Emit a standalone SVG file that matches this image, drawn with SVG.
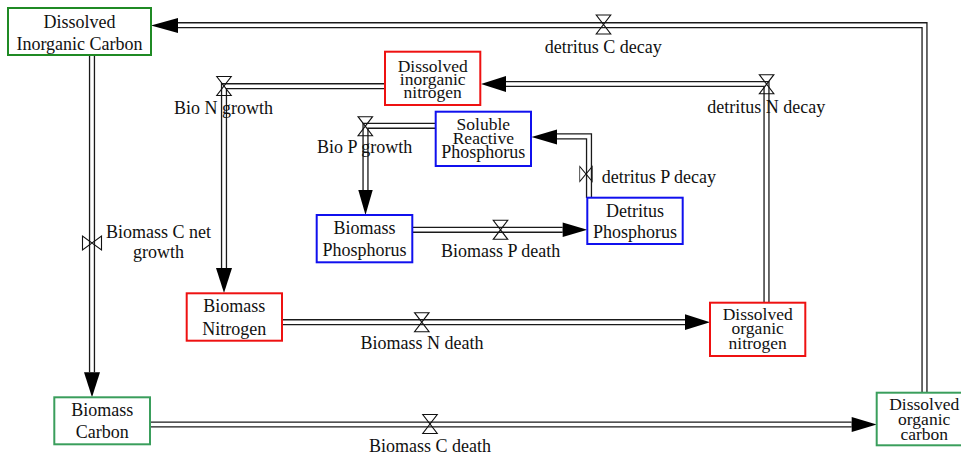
<svg xmlns="http://www.w3.org/2000/svg" xmlns:xlink="http://www.w3.org/1999/xlink" width="961" height="458" viewBox="0 0 961 458">
<style>
text{font-family:"Liberation Serif","Times New Roman",serif;font-size:18px;fill:#111;text-anchor:middle}
.t3{font-size:17.5px}
.box{fill:#fff;stroke-width:2}
.red{stroke:#ee1111}
.blue{stroke:#1010ee}
.dg{stroke:#1f8a24}
.lg{stroke:#3a9e5c}
.po{fill:none;stroke:#1a1a1a;stroke-width:6.2;stroke-linejoin:miter}
.pi{fill:none;stroke:#fff;stroke-width:3.6;stroke-linejoin:miter}
.arr{fill:#000}
.valve{fill:none;stroke:#111;stroke-width:1.1}
</style>
<defs>
<path id="vh" d="M-7.25,-9.5 H7.25 L-7.25,9.5 H7.25 Z"/>
<path id="vv" d="M-9.5,-7 V7 L9.5,-7 V7 Z"/>
</defs>
<rect width="961" height="458" fill="#fff"/>
<g id="connectors">
<g class="pipes-outer">
<path class="po" d="M924.5,393 V25.2 H178"/>
<path class="po" d="M766.5,303 V84 H506"/>
<path class="po" d="M385,86.2 H224 V268"/>
<path class="po" d="M435.7,125.8 H365.5 V190"/>
<path class="po" d="M589,198 V136.4 H557"/>
<path class="po" d="M412.3,229.8 H562.7"/>
<path class="po" d="M282,322.2 H685"/>
<path class="po" d="M92,55 V372.3"/>
<path class="po" d="M150,424.5 H851.7"/>
</g>
<g class="pipes-inner">
<path class="pi" d="M924.5,393 V25.2 H178"/>
<path class="pi" d="M766.5,303 V84 H506"/>
<path class="pi" d="M385,86.2 H224 V268"/>
<path class="pi" d="M435.7,125.8 H365.5 V190"/>
<path class="pi" d="M589,198 V136.4 H557"/>
<path class="pi" d="M412.3,229.8 H562.7"/>
<path class="pi" d="M282,322.2 H685"/>
<path class="pi" d="M92,55 V372.3"/>
<path class="pi" d="M150,424.5 H851.7"/>
</g>
<g class="arrowheads">
<path class="arr" d="M151,25.4 L178,17.9 L178,32.9 Z"/>
<path class="arr" d="M481,84 L506,76 L506,92 Z"/>
<path class="arr" d="M224,293 L216,268 L232,268 Z"/>
<path class="arr" d="M365.5,215 L358.3,190 L372.7,190 Z"/>
<path class="arr" d="M531.5,137 L557,129.5 L557,144.5 Z"/>
<path class="arr" d="M587.3,229.8 L562.7,222.5 L562.7,237.1 Z"/>
<path class="arr" d="M710,322.2 L685,314.3 L685,330.1 Z"/>
<path class="arr" d="M92,397.3 L84,372.3 L100,372.3 Z"/>
<path class="arr" d="M876.7,424.5 L851.7,417 L851.7,432 Z"/>
</g>
</g>
<g id="flow-detritus-C-decay">
<use href="#vh" xlink:href="#vh" class="valve" transform="translate(603.5,24.5)"/>
<text x="603.3" y="53">detritus C decay</text>
</g>
<g id="flow-detritus-N-decay">
<use href="#vh" xlink:href="#vh" class="valve" transform="translate(766.6,84.2)"/>
<text x="766.3" y="112.5">detritus N decay</text>
</g>
<g id="flow-Bio-N-growth">
<use href="#vh" xlink:href="#vh" class="valve" transform="translate(224,86)"/>
<text x="223.5" y="114">Bio N growth</text>
</g>
<g id="flow-Bio-P-growth">
<use href="#vh" xlink:href="#vh" class="valve" transform="translate(365.3,126.2)"/>
<text x="364.7" y="152.7">Bio P growth</text>
</g>
<g id="flow-detritus-P-decay">
<use href="#vv" xlink:href="#vv" class="valve" transform="translate(586,174) scale(0.66,1.07)"/>
<text x="601.7" y="182.5" style="text-anchor:start">detritus P decay</text>
</g>
<g id="flow-Biomass-P-death">
<use href="#vh" xlink:href="#vh" class="valve" transform="translate(500.5,229.8)"/>
<text x="500.7" y="257.3">Biomass P death</text>
</g>
<g id="flow-Biomass-N-death">
<use href="#vh" xlink:href="#vh" class="valve" transform="translate(421.8,322.2)"/>
<text x="422" y="349.3">Biomass N death</text>
</g>
<g id="flow-Biomass-C-net-growth">
<use href="#vv" xlink:href="#vv" class="valve" transform="translate(92,243)"/>
<text x="158.5" y="237.7">Biomass C net</text>
<text x="158.5" y="258.3">growth</text>
</g>
<g id="flow-Biomass-C-death">
<use href="#vh" xlink:href="#vh" class="valve" transform="translate(430,424)"/>
<text x="430" y="451.7">Biomass C death</text>
</g>
<g id="node-DIC">
<rect class="box dg" x="8" y="8" width="143" height="47"/>
<text x="79.5" y="28">Dissolved</text>
<text x="79.5" y="50">Inorganic Carbon</text>
</g>
<g id="node-DIN">
<rect class="box red" x="385" y="51.7" width="95.3" height="53.3"/>
<text class="t3" x="432.7" y="71.7">Dissolved</text>
<text class="t3" x="432.7" y="85">inorganic</text>
<text class="t3" x="432.7" y="98.3">nitrogen</text>
</g>
<g id="node-SRP">
<rect class="box blue" x="435.7" y="111.7" width="95.3" height="54.3"/>
<text class="t3" x="483.3" y="130">Soluble</text>
<text class="t3" x="483.3" y="144">Reactive</text>
<text x="483.3" y="157.5">Phosphorus</text>
</g>
<g id="node-BP">
<rect class="box blue" x="316.7" y="215" width="95.6" height="47.3"/>
<text x="364.5" y="234">Biomass</text>
<text x="364.5" y="256">Phosphorus</text>
</g>
<g id="node-DP">
<rect class="box blue" x="587.3" y="197.7" width="95.4" height="46.3"/>
<text x="635" y="216.7">Detritus</text>
<text x="635" y="237.5">Phosphorus</text>
</g>
<g id="node-BN">
<rect class="box red" x="186.7" y="293.3" width="95.3" height="47.4"/>
<text x="234.3" y="312.3">Biomass</text>
<text x="234.3" y="335">Nitrogen</text>
</g>
<g id="node-DON">
<rect class="box red" x="710" y="302.7" width="95.3" height="53.3"/>
<text class="t3" x="757.7" y="319.5">Dissolved</text>
<text class="t3" x="757.7" y="334">organic</text>
<text class="t3" x="757.7" y="348.5">nitrogen</text>
</g>
<g id="node-BC">
<rect class="box lg" x="54.3" y="397.3" width="95.7" height="47"/>
<text x="102.2" y="416">Biomass</text>
<text x="102.2" y="438.3">Carbon</text>
</g>
<g id="node-DOC">
<rect class="box lg" x="876.7" y="392.7" width="95" height="52.6"/>
<text class="t3" x="924.2" y="410">Dissolved</text>
<text class="t3" x="924.2" y="425">organic</text>
<text class="t3" x="924.2" y="440">carbon</text>
</g>
</svg>
